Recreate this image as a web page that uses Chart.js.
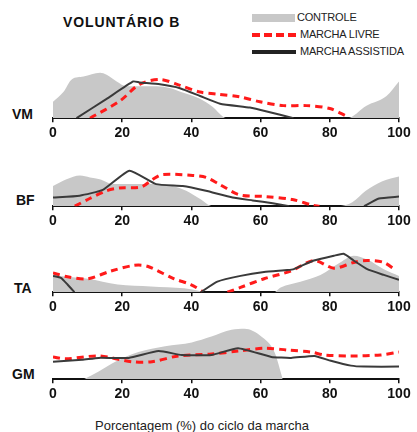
<!DOCTYPE html>
<html>
<head>
<meta charset="utf-8">
<script src="https://cdn.jsdelivr.net/npm/chart.js@4"></script>
<style>
  body { margin: 0; background: #fff; font-family: "Liberation Sans", Arial, sans-serif; }
  #wrap { position: relative; width: 417px; height: 432px; overflow: hidden; }
  .abs { position: absolute; white-space: nowrap; }
  .panel { position: absolute; left: 0; width: 417px; }
  .lab { font-weight: bold; font-size: 14px; color: #111; }
  .leg { font-size: 11px; color: #222; letter-spacing: -0.2px; }
</style>
</head>
<body>
<div id="wrap">
  <div class="abs lab" style="left:63px; top:14px; letter-spacing:0.9px;">VOLUNTÁRIO B</div>

  <div class="abs" style="left:252px; top:14px; width:43px; height:8px; background:#c8c8c8;"></div>
  <div class="abs leg" style="left:297px; top:11px;">CONTROLE</div>
  <div class="abs" style="left:252px; top:33px; width:44px; height:0; border-top:4px dashed #ff1a1a;"></div>
  <div class="abs leg" style="left:300px; top:28px;">MARCHA LIVRE</div>
  <div class="abs" style="left:252px; top:50px; width:44px; height:4px; background:#222;"></div>
  <div class="abs leg" style="left:300px; top:45px;">MARCHA ASSISTIDA</div>

  <div class="abs lab" style="left:12px; top:106px;">VM</div>
  <div class="abs lab" style="left:16px; top:192px;">BF</div>
  <div class="abs lab" style="left:14px; top:280px;">TA</div>
  <div class="abs lab" style="left:12px; top:366px;">GM</div>

  <div class="panel" style="top:65px; height:80px;"><canvas id="vm"></canvas></div>
  <div class="panel" style="top:163px; height:70px;"><canvas id="bf"></canvas></div>
  <div class="panel" style="top:249px; height:70px;"><canvas id="ta"></canvas></div>
  <div class="panel" style="top:323px; height:83px;"><canvas id="gm"></canvas></div>

  <div class="abs" style="left:95px; top:418px; font-size:13px; color:#222;">Porcentagem (%) do ciclo da marcha</div>
</div>

<script>
// x ticks (% do ciclo da marcha)
const xTicks = [0, 20, 40, 60, 80, 100];

// VM
const vmControle = [[0,17],[3,27],[5.4,40],[8.8,43],[13.6,47],[15.5,45],[18.4,38],[21.3,33],[25,33],[30,33],[34,31],[37,27],[42.5,20],[46,12],[50.2,0],[84.9,0],[90.6,13],[96.4,23],[100,38]];
const vmLivre = [[10.7,0],[19.4,18],[25,35],[30.9,40],[36.7,34],[42.5,27],[47.3,25],[54,22],[59.8,17],[66.6,13],[73.3,13],[80,10],[84.9,2]];
const vmAssistida = [[6.8,0],[15.5,20],[23.2,38],[25,37],[30.9,35],[36.7,31],[42.5,23],[48.3,15],[56.9,11],[61.8,7],[69.5,0]];

// BF
const bfControle = [[0,21],[3.9,28],[7.8,32],[10.7,30],[13.5,28],[17.3,23],[23.1,23],[27,23],[30.8,23],[34.6,21],[38.5,16],[42.3,8],[46.2,0],[82.7,0],[86.5,4],[90.4,16],[95.2,26],[100,31]];
const bfLivre = [[6.3,0],[10.6,8],[15.4,16],[19.2,19],[25.5,20],[28.8,28],[31.7,33],[40.4,32],[44.2,30],[48,23],[53.8,12],[61.5,10],[69.2,7],[75,1],[77,0]];
const bfAssistida = [[0,9],[7.7,11],[14.4,17],[22.1,37],[29.8,23],[37.5,21],[44.2,16],[51.9,9],[57.7,6],[63.5,3],[68.3,0],[null,null],[89.9,0],[94.2,8],[100,10]];

// TA
const taControle = [[0,18],[4.2,16],[10,14],[18.7,8],[28.3,6],[37.9,4],[42.7,1],[44,0],[63.8,0],[65.8,5],[71.5,11],[77.3,18],[83,31],[86.9,38],[90.8,34],[95.6,24],[100,17]];
const taLivre = [[0,20],[4.2,16],[10,14],[16.7,22],[23.5,28],[27.3,27],[35,14],[39.8,8],[43.2,1],[null,null],[50.4,0],[54.2,5],[61,14],[68.7,22],[75.4,33],[81.2,25],[86.9,31],[90.8,33],[95.6,31],[99,23]];
const taAssistida = [[0,17],[2.3,15],[4.2,8],[6.2,0],[null,null],[42.7,0],[47.5,11],[54.2,17],[61,21],[67.7,23],[69.6,24],[75.4,33],[81.2,38],[84,40],[86.9,33],[90.8,24],[95.6,18],[100,13]];

// GM
const gmControle = [[8.9,0],[13.2,8],[18,18],[24.7,28],[32.4,34],[40.1,38],[45.8,44],[51.6,51],[55.4,52],[60.2,44],[64,28],[66.4,0]];
const gmLivre = [[0,23],[3.6,21],[13.2,24],[22.8,18],[28.6,18],[36.2,24],[45.8,26],[53.5,29],[61.2,32],[67.9,30],[74.6,28],[78.4,25],[86.1,24],[94.7,25],[100,28]];
const gmAssistida = [[0,18],[8.4,20],[13.2,22],[21.9,22],[30.5,29],[37.2,25],[45.8,25],[53.5,32],[63.1,23],[68.8,22],[75.6,24],[80.3,19],[86.1,14],[89.9,13],[100,13]];

function pts(arr) {
  return arr.map(p => p[0] === null ? { x: null, y: null } : { x: p[0], y: p[1] });
}

function panel(id, controle, livre, assistida, yMax) {
  new Chart(document.getElementById(id), {
    type: 'line',
    data: {
      datasets: [
        { data: pts(assistida), borderColor: '#3a3a3a', borderWidth: 2, pointRadius: 0, fill: false, tension: 0.15, order: 1 },
        { data: pts(livre), borderColor: '#ff1a1a', borderWidth: 3, borderDash: [7, 5], pointRadius: 0, fill: false, tension: 0.3, order: 2 },
        { data: pts(controle), borderWidth: 0, borderColor: 'rgba(0,0,0,0)', backgroundColor: '#c8c8c8', pointRadius: 0, fill: 'origin', tension: 0.3, cubicInterpolationMode: 'monotone', order: 3 }
      ]
    },
    options: {
      responsive: true,
      maintainAspectRatio: false,
      animation: false,
      layout: { padding: { left: 53, right: 18, top: 0, bottom: 0 } },
      plugins: { legend: { display: false }, tooltip: { enabled: false } },
      scales: {
        x: {
          type: 'linear', min: 0, max: 100,
          afterBuildTicks: axis => { axis.ticks = xTicks.map(v => ({ value: v })); },
          grid: { drawOnChartArea: false, drawTicks: true, tickLength: 4, color: '#111', lineWidth: 1.5 },
          border: { display: true, color: '#111', width: 2 },
          ticks: { color: '#111', padding: 3, font: { family: '"Liberation Sans", Arial', size: 14, weight: 'bold' }, maxRotation: 0 }
        },
        y: { display: false, min: 0, max: yMax }
      }
    }
  });
}

panel('vm', vmControle, vmLivre, vmAssistida, 55);
panel('bf', bfControle, bfLivre, bfAssistida, 45);
panel('ta', taControle, taLivre, taAssistida, 45);
panel('gm', gmControle, gmLivre, gmAssistida, 58);
</script>
</body>
</html>
